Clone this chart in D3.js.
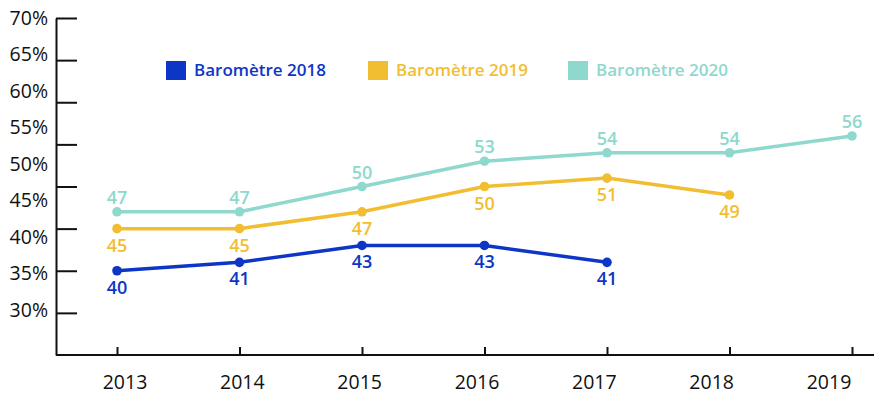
<!DOCTYPE html>
<html>
<head>
<meta charset="utf-8">
<script src="https://cdn.jsdelivr.net/npm/d3@7"></script>
<style>
  html, body { margin: 0; padding: 0; background: #fff; }
  svg { display: block; }
  .axis-lbl { font-family: "Open Sans", "Noto Sans", sans-serif; font-size: 19.5px; fill: #111; }
  .val, .leg { font-family: "Open Sans", "Noto Sans", sans-serif; font-weight: 600; }
</style>
</head>
<body>
<svg id="chart" width="874" height="397"></svg>
<script>
// chart data
const years = [2013, 2014, 2015, 2016, 2017, 2018, 2019];
const baro2018 = [40, 41, 43, 43, 41];
const baro2019 = [45, 45, 47, 50, 51, 49];
const baro2020 = [47, 47, 50, 53, 54, 54, 56];
const yTicks = [30, 35, 40, 45, 50, 55, 60, 65, 70];
const yTickLabels = ["30%", "35%", "40%", "45%", "50%", "55%", "60%", "65%", "70%"];

const seriesNames = ["Baromètre 2018", "Baromètre 2019", "Baromètre 2020"];
const seriesValues = [baro2018, baro2019, baro2020];
const seriesColors = ["#0d36c6", "#f2be31", "#8ed8ce"];
const labelSide = ["below", "below", "above"];

const svg = d3.select("#chart");
const axisX0 = 56, plotTop = 18, plotBottom = 355;

// scales: marks vs tick labels (labels in the original sit on a slightly different grid)
const x = d3.scalePoint().domain(years).range([117, 852]);
const xLabel = d3.scalePoint().domain(years).range([125, 829]);
const y = d3.scaleLinear().domain([30, 70]).range([plotBottom, plotTop]);
const yLabel = d3.scaleLinear().domain([30, 70]).range([310, 18]);

// y axis: inward ticks
const yAxisG = svg.append("g").attr("transform", `translate(${axisX0},0)`)
    .call(d3.axisRight(y).tickValues(yTicks.slice(1)).tickSize(21).tickSizeOuter(0).tickFormat(""));
yAxisG.select(".domain").attr("stroke", "#111").attr("stroke-width", 2);
yAxisG.selectAll(".tick line").attr("stroke", "#111").attr("stroke-width", 2);

svg.append("g").selectAll("text")
    .data(yTicks)
    .join("text")
    .attr("class", "axis-lbl")
    .attr("x", 48)
    .attr("y", d => yLabel(d))
    .attr("dy", "0.35em")
    .attr("text-anchor", "end")
    .text((d, i) => yTickLabels[i]);

// x axis: baseline + short upward ticks
svg.append("line")
    .attr("x1", axisX0).attr("x2", 874)
    .attr("y1", plotBottom).attr("y2", plotBottom)
    .attr("stroke", "#111").attr("stroke-width", 2);

const xAxisG = svg.append("g").attr("transform", `translate(0,${plotBottom})`)
    .call(d3.axisTop(x).tickSize(8).tickSizeOuter(0).tickFormat(""));
xAxisG.select(".domain").remove();
xAxisG.selectAll(".tick line").attr("stroke", "#111").attr("stroke-width", 2);

svg.append("g").selectAll("text")
    .data(years)
    .join("text")
    .attr("class", "axis-lbl")
    .attr("x", d => xLabel(d))
    .attr("y", 389)
    .attr("text-anchor", "middle")
    .text(d => d);

// lines, dots, value labels
const line = d3.line()
    .x(d => x(d.year))
    .y(d => y(d.value));

seriesValues.forEach((vals, si) => {
    const pts = vals.map((v, i) => ({ year: years[i], value: v }));
    const g = svg.append("g");
    g.append("path")
        .datum(pts)
        .attr("d", line)
        .attr("fill", "none")
        .attr("stroke", seriesColors[si])
        .attr("stroke-width", 3.5);
    g.selectAll("circle")
        .data(pts)
        .join("circle")
        .attr("cx", d => x(d.year))
        .attr("cy", d => y(d.value))
        .attr("r", 4.8)
        .attr("fill", seriesColors[si]);
    g.selectAll("text")
        .data(pts)
        .join("text")
        .attr("class", "val")
        .attr("x", d => x(d.year))
        .attr("y", d => y(d.value) + (labelSide[si] === "above" ? -8 : 23))
        .attr("text-anchor", "middle")
        .attr("font-size", 18)
        .attr("fill", seriesColors[si])
        .text(d => d.value);
});

// legend
const legX = [166, 368, 568];
const leg = svg.append("g").selectAll("g")
    .data(seriesNames)
    .join("g")
    .attr("transform", (d, i) => `translate(${legX[i]},61)`);
leg.append("rect")
    .attr("width", 20).attr("height", 19)
    .attr("fill", (d, i) => seriesColors[i]);
leg.append("text")
    .attr("class", "leg")
    .attr("x", 28).attr("y", 15)
    .attr("font-size", 17)
    .attr("fill", (d, i) => seriesColors[i])
    .text(d => d);
</script>
</body>
</html>
